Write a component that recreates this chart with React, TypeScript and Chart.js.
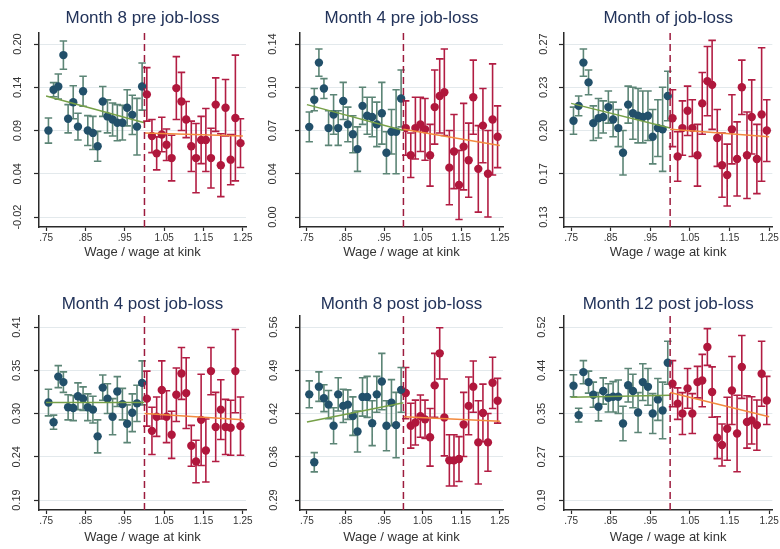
import React, { useEffect, useRef } from 'react';
import { Chart, registerables } from 'chart.js';
Chart.register(...registerables);

// ---------- shared axis data ----------
const binsLeft = [0.756, 0.769, 0.781, 0.794, 0.806, 0.819, 0.831, 0.844, 0.856, 0.869, 0.881, 0.894, 0.906, 0.919, 0.931, 0.944, 0.956, 0.969, 0.981, 0.994];
const binsRight = [1.006, 1.019, 1.031, 1.044, 1.056, 1.069, 1.081, 1.094, 1.106, 1.119, 1.131, 1.144, 1.156, 1.169, 1.181, 1.194, 1.206, 1.219, 1.231, 1.244];
const xTickValues = [0.75, 0.85, 0.95, 1.05, 1.15, 1.25];
const xTickLabels = ['.75', '.85', '.95', '1.05', '1.15', '1.25'];
const kink = 1.0;
const fitStart = 0.75;
const fitEnd = 1.25;
const xTitle = 'Wage / wage at kink';

// ---------- Month 8 pre job-loss ----------
const m8preTitle = 'Month 8 pre job-loss';
const m8preLeft = [0.090, 0.142, 0.146, 0.186, 0.105, 0.126, 0.095, 0.140, 0.090, 0.087, 0.070, 0.127, 0.108, 0.104, 0.100, 0.100, 0.119, 0.110, 0.095, 0.146];
const m8preLeftErr = [0.016, 0.009, 0.016, 0.018, 0.018, 0.021, 0.017, 0.019, 0.019, 0.021, 0.019, 0.019, 0.021, 0.021, 0.023, 0.022, 0.023, 0.025, 0.036, 0.030];
const m8preRight = [0.136, 0.083, 0.061, 0.085, 0.072, 0.055, 0.144, 0.127, 0.104, 0.070, 0.055, 0.078, 0.078, 0.055, 0.123, 0.046, 0.119, 0.053, 0.106, 0.074];
const m8preRightErr = [0.034, 0.021, 0.021, 0.022, 0.020, 0.029, 0.040, 0.037, 0.023, 0.032, 0.044, 0.030, 0.040, 0.038, 0.034, 0.040, 0.036, 0.032, 0.080, 0.031];
const m8preFitLeft = [0.134, 0.100];
const m8preFitRight = [0.087, 0.083];
const m8preTicks = [-0.02, 0.035, 0.09, 0.145, 0.20];
const m8preTickLabels = ['-0.02', '0.04', '0.09', '0.14', '0.20'];

// ---------- Month 4 pre job-loss ----------
const m4preTitle = 'Month 4 pre job-loss';
const m4preLeft = [0.073, 0.095, 0.125, 0.104, 0.072, 0.083, 0.072, 0.094, 0.075, 0.067, 0.055, 0.090, 0.082, 0.081, 0.075, 0.084, 0.052, 0.069, 0.069, 0.096];
const m4preLeftErr = [0.012, 0.009, 0.011, 0.008, 0.014, 0.016, 0.014, 0.015, 0.014, 0.015, 0.018, 0.015, 0.015, 0.016, 0.018, 0.025, 0.017, 0.018, 0.034, 0.023];
const m4preRight = [0.072, 0.050, 0.072, 0.075, 0.071, 0.050, 0.089, 0.098, 0.101, 0.040, 0.053, 0.026, 0.057, 0.046, 0.097, 0.039, 0.074, 0.035, 0.079, 0.065];
const m4preRightErr = [0.022, 0.018, 0.025, 0.022, 0.025, 0.025, 0.030, 0.030, 0.035, 0.030, 0.030, 0.028, 0.035, 0.030, 0.030, 0.035, 0.030, 0.035, 0.045, 0.025];
const m4preFitLeft = [0.091, 0.070];
const m4preFitRight = [0.071, 0.058];
const m4preTicks = [0.0, 0.035, 0.07, 0.105, 0.14];
const m4preTickLabels = ['0.00', '0.04', '0.07', '0.10', '0.14'];

// ---------- Month of job-loss ----------
const m0Title = 'Month of job-loss';
const m0Left = [0.208, 0.220, 0.255, 0.239, 0.206, 0.210, 0.211, 0.219, 0.209, 0.202, 0.182, 0.221, 0.214, 0.212, 0.211, 0.212, 0.195, 0.202, 0.201, 0.228];
const m0LeftErr = [0.011, 0.008, 0.011, 0.010, 0.014, 0.016, 0.013, 0.013, 0.014, 0.015, 0.018, 0.015, 0.021, 0.022, 0.021, 0.020, 0.022, 0.023, 0.034, 0.020];
const m0Right = [0.210, 0.179, 0.202, 0.216, 0.202, 0.180, 0.222, 0.240, 0.237, 0.194, 0.172, 0.164, 0.201, 0.177, 0.235, 0.180, 0.211, 0.177, 0.213, 0.200];
const m0RightErr = [0.023, 0.020, 0.022, 0.020, 0.023, 0.025, 0.025, 0.028, 0.036, 0.023, 0.026, 0.025, 0.028, 0.030, 0.022, 0.035, 0.030, 0.028, 0.054, 0.025];
const m0FitLeft = [0.222, 0.202];
const m0FitRight = [0.201, 0.195];
const m0Ticks = [0.13, 0.165, 0.20, 0.235, 0.27];
const m0TickLabels = ['0.13', '0.17', '0.20', '0.23', '0.27'];

// ---------- Month 4 post job-loss ----------
const p4Title = 'Month 4 post job-loss';
const p4Left = [0.314, 0.289, 0.347, 0.340, 0.308, 0.307, 0.322, 0.319, 0.308, 0.305, 0.271, 0.333, 0.319, 0.296, 0.328, 0.312, 0.287, 0.301, 0.313, 0.339];
const p4LeftErr = [0.017, 0.009, 0.014, 0.013, 0.016, 0.016, 0.017, 0.015, 0.017, 0.017, 0.021, 0.016, 0.019, 0.023, 0.019, 0.020, 0.024, 0.024, 0.023, 0.028];
const p4Right = [0.319, 0.278, 0.296, 0.330, 0.296, 0.273, 0.324, 0.351, 0.326, 0.259, 0.239, 0.292, 0.253, 0.354, 0.283, 0.305, 0.283, 0.282, 0.354, 0.284];
const p4RightErr = [0.035, 0.030, 0.025, 0.037, 0.033, 0.030, 0.034, 0.033, 0.045, 0.026, 0.027, 0.058, 0.040, 0.030, 0.044, 0.038, 0.035, 0.035, 0.053, 0.037];
const p4FitLeft = [0.314, 0.314];
const p4FitRight = [0.300, 0.292];
const p4Ticks = [0.19, 0.245, 0.30, 0.355, 0.41];
const p4TickLabels = ['0.19', '0.24', '0.30', '0.35', '0.41'];

// ---------- Month 8 post job-loss ----------
const p8Title = 'Month 8 post job-loss';
const p8Left = [0.455, 0.349, 0.467, 0.449, 0.439, 0.406, 0.455, 0.437, 0.439, 0.421, 0.397, 0.451, 0.451, 0.410, 0.455, 0.475, 0.406, 0.442, 0.407, 0.462];
const p8LeftErr = [0.021, 0.015, 0.023, 0.021, 0.022, 0.028, 0.026, 0.026, 0.023, 0.030, 0.032, 0.030, 0.032, 0.035, 0.028, 0.044, 0.039, 0.036, 0.051, 0.035];
const p8Right = [0.457, 0.406, 0.411, 0.421, 0.416, 0.388, 0.469, 0.519, 0.419, 0.352, 0.352, 0.354, 0.408, 0.437, 0.467, 0.380, 0.426, 0.380, 0.473, 0.445];
const p8RightErr = [0.040, 0.035, 0.035, 0.033, 0.030, 0.045, 0.050, 0.040, 0.060, 0.040, 0.040, 0.035, 0.050, 0.045, 0.040, 0.065, 0.045, 0.045, 0.040, 0.035];
const p8FitLeft = [0.412, 0.442];
const p8FitRight = [0.420, 0.413];
const p8Ticks = [0.29, 0.3575, 0.425, 0.4925, 0.56];
const p8TickLabels = ['0.29', '0.36', '0.42', '0.49', '0.56'];

// ---------- Month 12 post job-loss ----------
const p12Title = 'Month 12 post job-loss';
const p12Left = [0.408, 0.352, 0.434, 0.415, 0.391, 0.368, 0.398, 0.385, 0.387, 0.387, 0.336, 0.409, 0.398, 0.357, 0.415, 0.406, 0.355, 0.382, 0.361, 0.452];
const p12LeftErr = [0.021, 0.013, 0.022, 0.021, 0.024, 0.027, 0.025, 0.027, 0.029, 0.032, 0.033, 0.032, 0.032, 0.038, 0.035, 0.035, 0.038, 0.040, 0.054, 0.041];
const p12Right = [0.412, 0.374, 0.355, 0.403, 0.355, 0.415, 0.418, 0.482, 0.396, 0.309, 0.295, 0.326, 0.399, 0.317, 0.444, 0.339, 0.342, 0.333, 0.431, 0.380];
const p12RightErr = [0.044, 0.030, 0.040, 0.038, 0.038, 0.030, 0.050, 0.035, 0.048, 0.040, 0.040, 0.060, 0.065, 0.073, 0.060, 0.050, 0.045, 0.048, 0.062, 0.046];
const p12FitLeft = [0.386, 0.390];
const p12FitRight = [0.395, 0.349];
const p12Ticks = [0.19, 0.2725, 0.355, 0.4375, 0.52];
const p12TickLabels = ['0.19', '0.27', '0.35', '0.44', '0.52'];

// ---------- styling ----------
const FONT = "'Liberation Sans', Arial, Helvetica, sans-serif";
const C = {
  title: '#22335a',
  text: '#333333',
  axis: '#2a2a2a',
  grid: '#e3e9ec',
  greenPoint: '#22506a',
  greenBar: '#5c8576',
  redPoint: '#b0173c',
  redBar: '#b21d43',
  greenFit: '#76a048',
  orangeFit: '#f28a3e',
  kink: '#9c1b3d',
};
const CAP = 0.0095;

type PanelData = {
  title: string; left: number[]; leftErr: number[]; right: number[]; rightErr: number[];
  fitLeft: number[]; fitRight: number[]; ticks: number[]; tickLabels: string[];
};

const panels: PanelData[] = [
  { title: m8preTitle, left: m8preLeft, leftErr: m8preLeftErr, right: m8preRight, rightErr: m8preRightErr, fitLeft: m8preFitLeft, fitRight: m8preFitRight, ticks: m8preTicks, tickLabels: m8preTickLabels },
  { title: m4preTitle, left: m4preLeft, leftErr: m4preLeftErr, right: m4preRight, rightErr: m4preRightErr, fitLeft: m4preFitLeft, fitRight: m4preFitRight, ticks: m4preTicks, tickLabels: m4preTickLabels },
  { title: m0Title, left: m0Left, leftErr: m0LeftErr, right: m0Right, rightErr: m0RightErr, fitLeft: m0FitLeft, fitRight: m0FitRight, ticks: m0Ticks, tickLabels: m0TickLabels },
  { title: p4Title, left: p4Left, leftErr: p4LeftErr, right: p4Right, rightErr: p4RightErr, fitLeft: p4FitLeft, fitRight: p4FitRight, ticks: p4Ticks, tickLabels: p4TickLabels },
  { title: p8Title, left: p8Left, leftErr: p8LeftErr, right: p8Right, rightErr: p8RightErr, fitLeft: p8FitLeft, fitRight: p8FitRight, ticks: p8Ticks, tickLabels: p8TickLabels },
  { title: p12Title, left: p12Left, leftErr: p12LeftErr, right: p12Right, rightErr: p12RightErr, fitLeft: p12FitLeft, fitRight: p12FitRight, ticks: p12Ticks, tickLabels: p12TickLabels },
];

// per-panel label gap between y tick marks and rotated labels
const yLabelPad = [3, 11, 4, 6, 10, 6];

const cols = [
  { left: 0, width: 260, yWidth: 39, padRight: 14 },
  { left: 260, width: 260, yWidth: 40, padRight: 17 },
  { left: 520, width: 260, yWidth: 44, padRight: 5 },
];
const rows = [
  { top: 0, height: 272, titleTop: 8, titleBottom: 4, xHeight: 45, xTitleBottom: 12 },
  { top: 280, height: 269, titleTop: 14, titleBottom: 1, xHeight: 39, xTitleBottom: 4 },
];

function errorSegments(xs: number[], vals: number[], errs: number[]) {
  const pts: { x: number; y: number | null }[] = [];
  xs.forEach((x, i) => {
    const hi = vals[i] + errs[i];
    const lo = vals[i] - errs[i];
    pts.push({ x, y: hi }, { x, y: lo }, { x, y: null });
    pts.push({ x: x - CAP, y: hi }, { x: x + CAP, y: hi }, { x, y: null });
    pts.push({ x: x - CAP, y: lo }, { x: x + CAP, y: lo }, { x, y: null });
  });
  return pts;
}

function Panel({ data, idx }: { data: PanelData; idx: number }) {
  const ref = useRef<HTMLCanvasElement>(null);
  const R = rows[Math.floor(idx / 3)];
  const K = cols[idx % 3];
  useEffect(() => {
    const step = (data.ticks[data.ticks.length - 1] - data.ticks[0]) / (data.ticks.length - 1);
    const yMin = data.ticks[0] - step * 0.23;
    const yMax = data.ticks[data.ticks.length - 1] + step * 0.27;
    const chart = new Chart(ref.current!, {
      type: 'scatter',
      data: {
        datasets: [
          {
            type: 'line', label: 'kink', order: 0,
            data: [{ x: kink, y: yMin }, { x: kink, y: yMax }],
            borderColor: C.kink, borderWidth: 1.5, borderDash: [7, 4], pointRadius: 0, fill: false,
          } as any,
          {
            type: 'line', label: 'fit left', order: 1,
            data: [{ x: fitStart, y: data.fitLeft[0] }, { x: kink, y: data.fitLeft[1] }],
            borderColor: C.greenFit, borderWidth: 1.5, pointRadius: 0, fill: false,
          } as any,
          {
            type: 'line', label: 'fit right', order: 1,
            data: [{ x: kink, y: data.fitRight[0] }, { x: fitEnd, y: data.fitRight[1] }],
            borderColor: C.orangeFit, borderWidth: 1.5, pointRadius: 0, fill: false,
          } as any,
          {
            type: 'scatter', label: 'left', order: 2,
            data: binsLeft.map((x, i) => ({ x, y: data.left[i] })),
            backgroundColor: C.greenPoint, borderColor: C.greenPoint, pointRadius: 4.2, borderWidth: 0,
          },
          {
            type: 'scatter', label: 'right', order: 2,
            data: binsRight.map((x, i) => ({ x, y: data.right[i] })),
            backgroundColor: C.redPoint, borderColor: C.redPoint, pointRadius: 4.2, borderWidth: 0,
          },
          {
            type: 'line', label: 'ci left', order: 3,
            data: errorSegments(binsLeft, data.left, data.leftErr),
            borderColor: C.greenBar, borderWidth: 1.6, pointRadius: 0, spanGaps: false, fill: false,
          } as any,
          {
            type: 'line', label: 'ci right', order: 3,
            data: errorSegments(binsRight, data.right, data.rightErr),
            borderColor: C.redBar, borderWidth: 1.6, pointRadius: 0, spanGaps: false, fill: false,
          } as any,
        ],
      },
      options: {
        responsive: false,
        animation: false,
        events: [],
        layout: { padding: { left: 0, right: K.padRight, top: 0, bottom: 0 } },
        plugins: {
          legend: { display: false },
          tooltip: { enabled: false },
          title: {
            display: true, fullSize: false, text: data.title, color: C.title,
            font: { family: FONT, size: 17, weight: 'normal' },
            padding: { top: R.titleTop, bottom: R.titleBottom },
          },
        },
        scales: {
          x: {
            type: 'linear', min: 0.732, max: 1.258,
            afterBuildTicks: (s: any) => { s.ticks = xTickValues.map((v) => ({ value: v })); },
            afterFit: (s: any) => { s.height = R.xHeight; },
            ticks: {
              autoSkip: false, minRotation: 0, maxRotation: 0, padding: 1, color: C.text,
              font: { family: FONT, size: 10 },
              callback: (_v: any, i: number) => xTickLabels[i],
            },
            grid: { color: 'rgba(0,0,0,0)', drawOnChartArea: false, tickColor: C.axis, tickLength: 4, tickWidth: 1.2 },
            border: { color: C.axis, width: 1.5 },
            title: {
              display: true, text: xTitle, color: C.text,
              font: { family: FONT, size: 13 },
              padding: { top: 0, bottom: R.xTitleBottom },
            },
          },
          y: {
            type: 'linear', min: yMin, max: yMax,
            afterBuildTicks: (s: any) => { s.ticks = data.ticks.map((v) => ({ value: v })); },
            afterFit: (s: any) => { s.width = K.yWidth; },
            ticks: {
              minRotation: 90, maxRotation: 90, crossAlign: 'center', padding: yLabelPad[idx], color: C.text,
              font: { family: FONT, size: 11 },
              callback: (_v: any, i: number) => data.tickLabels[i],
            },
            grid: { color: C.grid, lineWidth: 1, tickColor: C.axis, tickLength: 5, tickWidth: 1.2 },
            border: { color: C.axis, width: 1.5 },
          },
        },
      } as any,
    });
    return () => chart.destroy();
  }, []);
  return (
    <div style={{ position: 'absolute', left: K.left, top: R.top, width: K.width, height: R.height }}>
      <canvas ref={ref} width={K.width} height={R.height} style={{ width: K.width, height: R.height, display: 'block' }} />
    </div>
  );
}

export default function App() {
  return (
    <div style={{ position: 'fixed', left: 0, top: 0, width: 780, height: 549, background: '#ffffff', overflow: 'hidden' }}>
      {panels.map((p, i) => (
        <Panel key={i} data={p} idx={i} />
      ))}
    </div>
  );
}
